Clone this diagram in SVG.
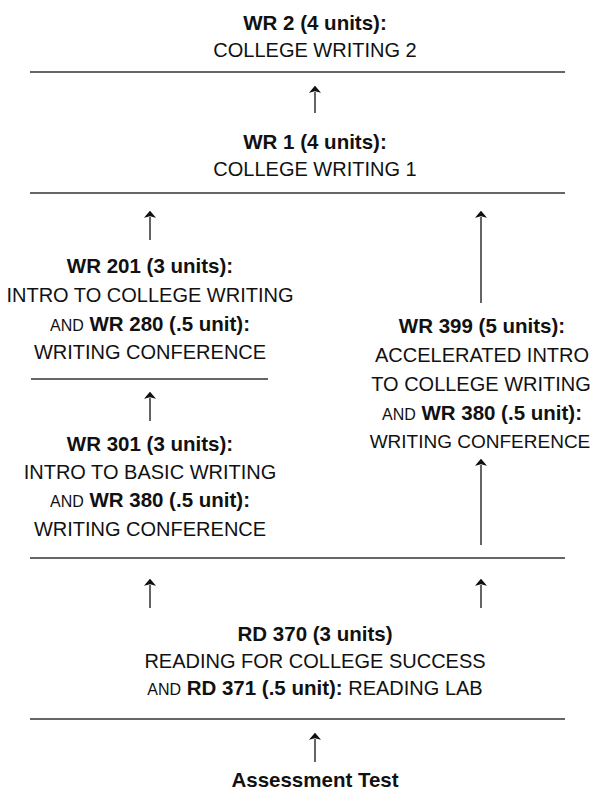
<svg xmlns="http://www.w3.org/2000/svg" width="594" height="792" viewBox="0 0 594 792">
<style>
text{font-family:"Liberation Sans",Arial,sans-serif;font-size:20px;fill:#111;text-anchor:middle}
.b{font-weight:bold;font-size:20.5px}
.sc{font-size:16px;font-weight:normal}
.rule{stroke:#333;stroke-width:1.4;fill:none}
</style>
<defs>
<marker id="ahd" viewBox="0 0 10 10" refX="1" refY="5" markerWidth="7" markerHeight="12" markerUnits="userSpaceOnUse" orient="auto" preserveAspectRatio="none">
<path d="M0,0 L10,5 L0,10 L2,5 z" fill="#111"/>
</marker>
</defs>
<g id="rules">
<line class="rule" x1="30" y1="72" x2="565" y2="72"/>
<line class="rule" x1="30" y1="193" x2="565" y2="193"/>
<line class="rule" x1="31" y1="379" x2="268" y2="379"/>
<line class="rule" x1="30" y1="558" x2="565" y2="558"/>
<line class="rule" x1="30" y1="719" x2="565" y2="719"/>
</g>
<g id="connectors" stroke="#111" stroke-width="1.3" fill="none" marker-end="url(#ahd)">
<line x1="315" y1="113" x2="315" y2="92"/>
<line x1="150" y1="240" x2="150" y2="217"/>
<line x1="481" y1="303" x2="481" y2="217"/>
<line x1="150" y1="421" x2="150" y2="398"/>
<line x1="481" y1="545" x2="481" y2="465"/>
<line x1="150" y1="608" x2="150" y2="585"/>
<line x1="481" y1="608" x2="481" y2="585"/>
<line x1="315" y1="762" x2="315" y2="739"/>
</g>
<g id="wr2">
<text x="315" y="30" class="b">WR 2 (4 units):</text>
<text x="315" y="57">COLLEGE WRITING 2</text>
</g>
<g id="wr1">
<text x="315" y="149" class="b">WR 1 (4 units):</text>
<text x="315" y="176">COLLEGE WRITING 1</text>
</g>
<g id="wr201">
<text x="150" y="273" class="b">WR 201 (3 units):</text>
<text x="150" y="302">INTRO TO COLLEGE WRITING</text>
<text x="150" y="331"><tspan class="sc">AND</tspan> <tspan class="b">WR 280 (.5 unit):</tspan></text>
<text x="150" y="359">WRITING CONFERENCE</text>
</g>
<g id="wr301">
<text x="150" y="451" class="b">WR 301 (3 units):</text>
<text x="150" y="479">INTRO TO BASIC WRITING</text>
<text x="150" y="507"><tspan class="sc">AND</tspan> <tspan class="b">WR 380 (.5 unit):</tspan></text>
<text x="150" y="536">WRITING CONFERENCE</text>
</g>
<g id="wr399">
<text x="482" y="333" class="b">WR 399 (5 units):</text>
<text x="482" y="362">ACCELERATED INTRO</text>
<text x="481" y="391">TO COLLEGE WRITING</text>
<text x="482" y="420"><tspan class="sc">AND</tspan> <tspan class="b">WR 380 (.5 unit):</tspan></text>
<text x="480" y="448" style="font-size:19px">WRITING CONFERENCE</text>
</g>
<g id="rd370">
<text x="315" y="641" class="b">RD 370 (3 units)</text>
<text x="315" y="668">READING FOR COLLEGE SUCCESS</text>
<text x="315" y="695"><tspan class="sc">AND</tspan>  <tspan class="b">RD 371 (.5 unit):</tspan> READING LAB</text>
</g>
<g id="assessment">
<text x="315" y="787" class="b">Assessment Test</text>
</g>
</svg>
